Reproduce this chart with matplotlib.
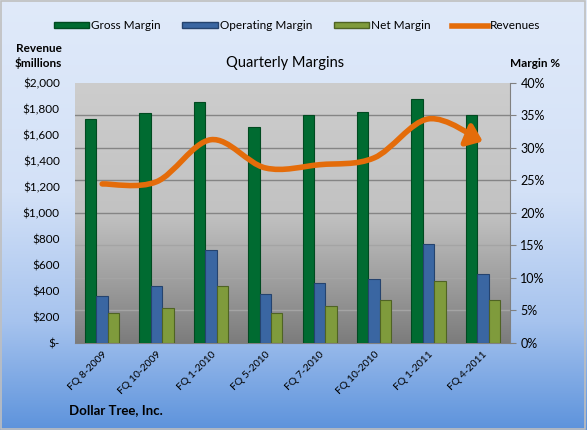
import numpy as np
import matplotlib.pyplot as plt
from matplotlib.path import Path
from matplotlib.patches import FancyArrowPatch, Rectangle
from matplotlib.colors import LinearSegmentedColormap
from matplotlib.lines import Line2D
from matplotlib.ticker import FuncFormatter, MultipleLocator

plt.rcParams['font.family'] = ['Lato', 'DejaVu Sans']

quarters = ['FQ 8-2009', 'FQ 10-2009', 'FQ 1-2010', 'FQ 5-2010',
            'FQ 7-2010', 'FQ 10-2010', 'FQ 1-2011', 'FQ 4-2011']
gross_margin = [34.5, 35.4, 37.1, 33.2, 35.1, 35.5, 37.5, 35.0]  # %
operating_margin = [7.3, 8.7, 14.3, 7.6, 9.3, 9.9, 15.3, 10.6]
net_margin = [4.6, 5.4, 8.7, 4.6, 5.7, 6.6, 9.5, 6.6]
revenues = [1223, 1240, 1563, 1346, 1371, 1423, 1723, 1550]  # $ millions

fig = plt.figure(figsize=(5.87, 4.30), dpi=100)

# figure background gradient (light blue -> darker blue)
bg = fig.add_axes([0, 0, 1, 1], zorder=-10)
bg_cmap = LinearSegmentedColormap.from_list(
    'bg', [(0, '#e0eafa'), (0.45, '#d3e1f7'), (0.75, '#a6c3ee'), (1, '#5d93dc')])
bg.imshow(np.linspace(0, 1, 256).reshape(-1, 1), aspect='auto', cmap=bg_cmap,
          extent=[0, 1, 0, 1], origin='upper')
bg.add_patch(Rectangle((0.002, 0.003), 0.995, 0.994, fill=False, ec='#bfbfbf', lw=1.2,
                       transform=bg.transAxes))
bg.set_axis_off()

ax = fig.add_axes([0.1278, 0.2023, 0.741, 0.605])
ax2 = ax.twinx()
ax.set_zorder(1)
ax2.set_zorder(2)
ax2.patch.set_visible(False)

x = np.arange(len(quarters))
ax.set_xlim(-0.5, len(quarters) - 0.5)
ax.set_ylim(0, 40)

# plot area gradient
pa_cmap = LinearSegmentedColormap.from_list(
    'pa', [(0, '#cdcdcd'), (0.5, '#c2c2c2'), (0.75, '#a0a0a0'), (1, '#7c7c7c')])
ax.imshow(np.linspace(0, 1, 256).reshape(-1, 1), aspect='auto', cmap=pa_cmap,
          extent=[-0.5, len(quarters) - 0.5, 0, 40], origin='upper', zorder=0)

for v in range(5, 40, 5):
    ax.axhline(v, color='#858585' if v > 15 else '#a4a4a4', lw=1.0, zorder=1)

w = 0.21
ax.bar(x - w, gross_margin, w, color='#006b31', edgecolor='#004a20', lw=0.8, zorder=3)
ax.bar(x, operating_margin, w, color='#3a66a2', edgecolor='#25436e', lw=0.8, zorder=3)
ax.bar(x + w, net_margin, w, color='#7f9b3c', edgecolor='#4f6324', lw=0.8, zorder=3)

# margin axis drawn on the right
ax.yaxis.tick_right()
ax.yaxis.set_major_locator(MultipleLocator(5))
ax.yaxis.set_major_formatter(FuncFormatter(lambda v, p: f'{v:.0f}%'))
ax.tick_params(axis='y', colors='#808080', labelcolor='black', labelsize=9, length=4,
               right=True, left=False, labelright=True, labelleft=False)
ax.set_xticks(x)
ax.set_xticklabels(quarters, rotation=45, ha='right', rotation_mode='anchor', fontsize=7.5)
ax.tick_params(axis='x', length=0, pad=5)
for s in ['top', 'left']:
    ax.spines[s].set_visible(False)
ax.spines['bottom'].set_color('#808080')
ax.spines['right'].set_color('#808080')

# revenue axis drawn on the left
ax2.set_ylim(0, 2000)
ax2.yaxis.tick_left()
ax2.yaxis.set_major_locator(MultipleLocator(200))
ax2.yaxis.set_major_formatter(FuncFormatter(lambda v, p: '$-' if v == 0 else f'${v:,.0f}'))
ax2.tick_params(axis='y', length=0, labelsize=8.5, pad=11, right=False, labelright=False,
                left=True, labelleft=True)
for s in ax2.spines.values():
    s.set_visible(False)

# smoothed revenue line with arrow head
verts = [(x[0], revenues[0])]
codes = [Path.MOVETO]
n = len(revenues)
for i in range(n - 1):
    p0 = np.array([x[max(i - 1, 0)], revenues[max(i - 1, 0)]], float)
    p1 = np.array([x[i], revenues[i]], float)
    p2 = np.array([x[i + 1], revenues[i + 1]], float)
    p3 = np.array([x[min(i + 2, n - 1)], revenues[min(i + 2, n - 1)]], float)
    c1 = p1 + (p2 - p0) / 6
    c2 = p2 - (p3 - p1) / 6
    verts += [tuple(c1), tuple(c2), tuple(p2)]
    codes += [Path.CURVE4] * 3
arrow = FancyArrowPatch(path=Path(verts, codes), arrowstyle='-|>,head_length=9,head_width=7',
                        color='#e46c0a', lw=4, transform=ax2.transData, zorder=5,
                        capstyle='round', joinstyle='round')
ax2.add_patch(arrow)

# texts
fig.text(0.485, 0.853, 'Quarterly Margins', ha='center', va='center', fontsize=10.5)
fig.text(0.066, 0.87, 'Revenue\n$millions', ha='center', va='center', fontsize=8.5,
         fontweight='bold', linespacing=1.25)
fig.text(0.912, 0.853, 'Margin %', ha='center', va='center', fontsize=8.5, fontweight='bold')
fig.text(0.117, 0.047, 'Dollar Tree, Inc.', ha='left', va='center', fontsize=9.5, fontweight='bold')

handles = [Rectangle((0, 0), 1, 1, fc='#006b31', ec='#004a20'),
           Rectangle((0, 0), 1, 1, fc='#3a66a2', ec='#25436e'),
           Rectangle((0, 0), 1, 1, fc='#7f9b3c', ec='#4f6324'),
           Line2D([], [], color='#e46c0a', lw=4)]
fig.legend(handles, ['Gross Margin', 'Operating Margin', 'Net Margin', 'Revenues'],
           loc='center', bbox_to_anchor=(0.506, 0.94), ncol=4, frameon=False, fontsize=8.5,
           handlelength=3.0, handleheight=0.5, handletextpad=0.2, columnspacing=1.8)

fig.savefig('out.png', dpi=100)
